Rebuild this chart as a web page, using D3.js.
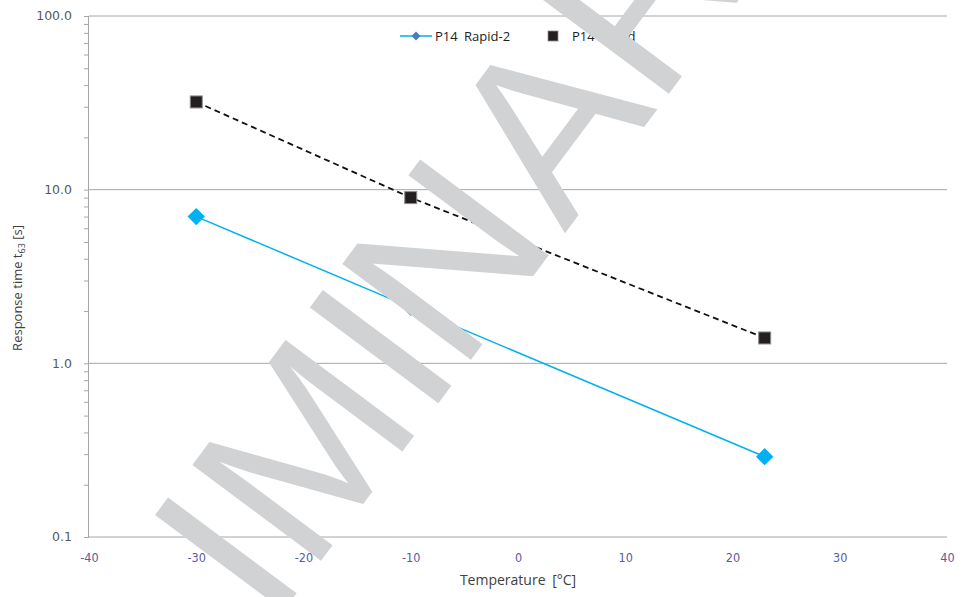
<!DOCTYPE html>
<html>
<head>
<meta charset="utf-8">
<script src="https://cdn.jsdelivr.net/npm/d3@7"></script>
<style>
  html, body { margin: 0; padding: 0; background: #fff; }
  svg { display: block; }
</style>
</head>
<body>
<div id="chart"></div>
<script>
// data
const temperatures = [-30, -10, 23];
const rapid2Values = [7.0, 2.1, 0.29];
const rapidValues = [32, 9.0, 1.4];
const seriesNames = ["P14 Rapid-2", "P14 Rapid"];
const xTickValues = [-40, -30, -20, -10, 0, 10, 20, 30, 40];
const yTickValues = [0.1, 1, 10, 100];
const yTickLabels = ["0.1", "1.0", "10.0", "100.0"];
const watermarkText = "PRELIMINARY";

const width = 962, height = 597;
const margin = { top: 16, right: 15, bottom: 60, left: 89 };

const svg = d3.select("#chart").append("svg")
  .attr("width", width)
  .attr("height", height);

const x = d3.scaleLinear().domain([-40, 40]).range([margin.left, width - margin.right]);
const y = d3.scaleLog().domain([0.1, 100]).range([height - margin.bottom, margin.top]);

const gridColor = "#a6a6a6";

// gridlines (horizontal, decades)
svg.append("g")
  .selectAll("line")
  .data(yTickValues)
  .join("line")
  .attr("x1", x(-40)).attr("x2", x(40))
  .attr("y1", d => y(d)).attr("y2", d => y(d))
  .attr("stroke", gridColor)
  .attr("stroke-width", 1);

// y axis with minor log ticks
const minorTicks = y.ticks();
const yAxis = d3.axisLeft(y)
  .tickValues(minorTicks)
  .tickSize(5)
  .tickFormat("");
const yAxisG = svg.append("g")
  .attr("transform", `translate(${x(-40)},0)`)
  .call(yAxis);
yAxisG.select(".domain").attr("stroke", gridColor).attr("d", `M-0.5,${y(100)}V${y(0.1)}`);
yAxisG.selectAll(".tick line").attr("stroke", gridColor);

// y tick labels
svg.append("g")
  .selectAll("text")
  .data(yTickValues)
  .join("text")
  .attr("x", x(-40) - 17)
  .attr("y", d => y(d))
  .attr("dy", "0.35em")
  .attr("text-anchor", "end")
  .attr("font-family", "DejaVu Sans, Verdana, sans-serif")
  .attr("font-size", 12.5)
  .attr("fill", "#595959")
  .text((d, i) => yTickLabels[i]);

// x axis (labels only)
const xAxis = d3.axisBottom(x)
  .tickValues(xTickValues)
  .tickSize(0)
  .tickPadding(16)
  .tickFormat(d => String(d));
const xAxisG = svg.append("g")
  .attr("transform", `translate(0,${y(0.1)})`)
  .call(xAxis);
xAxisG.select(".domain").remove();
xAxisG.selectAll("text")
  .attr("font-family", "DejaVu Sans Condensed, DejaVu Sans, sans-serif")
  .attr("font-stretch", "condensed")
  .attr("font-size", 12.5)
  .attr("fill", "#5b5b9c");

// axis titles
svg.append("text")
  .attr("x", (x(-40) + x(40)) / 2)
  .attr("y", 585)
  .attr("text-anchor", "middle")
  .attr("font-family", "Open Sans, sans-serif")
  .attr("font-size", 14)
  .attr("word-spacing", 3)
  .attr("fill", "#404040")
  .text("Temperature [°C]");

const yTitle = svg.append("text")
  .attr("transform", `translate(22,288) rotate(-90)`)
  .attr("text-anchor", "middle")
  .attr("font-family", "Open Sans, sans-serif")
  .attr("font-size", 13)
  .attr("fill", "#404040");
yTitle.append("tspan").text("Response time t");
yTitle.append("tspan").attr("font-size", 9).attr("dy", 3).text("63");
yTitle.append("tspan").attr("dy", -3).text(" [s]");

// series
const rapid2Color = "#00b0f0";
const rapid2Data = temperatures.map((t, i) => ({ t, v: rapid2Values[i] }));
const rapidData = temperatures.map((t, i) => ({ t, v: rapidValues[i] }));

const line = d3.line().x(d => x(d.t)).y(d => y(d.v));

svg.append("path")
  .datum(rapidData)
  .attr("d", line)
  .attr("fill", "none")
  .attr("stroke", "#111")
  .attr("stroke-width", 1.8)
  .attr("stroke-dasharray", "6,4");

svg.append("path")
  .datum(rapid2Data)
  .attr("d", line)
  .attr("fill", "none")
  .attr("stroke", rapid2Color)
  .attr("stroke-width", 1.5);

svg.append("g")
  .selectAll("path")
  .data(rapid2Data)
  .join("path")
  .attr("transform", d => `translate(${x(d.t)},${y(d.v)}) rotate(45)`)
  .attr("d", d3.symbol().type(d3.symbolSquare).size(150))
  .attr("fill", rapid2Color);

svg.append("g")
  .selectAll("rect")
  .data(rapidData)
  .join("rect")
  .attr("x", d => x(d.t) - 6)
  .attr("y", d => y(d.v) - 6)
  .attr("width", 12)
  .attr("height", 12)
  .attr("fill", "#231f20")
  .attr("stroke", "#8c8c8c")
  .attr("stroke-width", 1);

// legend
const legend = svg.append("g").attr("transform", "translate(400,36)");
legend.append("line")
  .attr("x1", 0).attr("x2", 32).attr("y1", 0).attr("y2", 0)
  .attr("stroke", rapid2Color).attr("stroke-width", 1.5);
legend.append("path")
  .attr("transform", "translate(16,0) rotate(45)")
  .attr("d", d3.symbol().type(d3.symbolSquare).size(40))
  .attr("fill", "#4a7ebb");
legend.append("text")
  .attr("x", 35).attr("y", 0).attr("dy", "0.35em")
  .attr("font-family", "Open Sans, sans-serif")
  .attr("font-size", 13)
  .attr("word-spacing", 3)
  .attr("fill", "#222")
  .text(seriesNames[0]);
legend.append("rect")
  .attr("x", 148).attr("y", -5).attr("width", 10).attr("height", 10)
  .attr("fill", "#231f20").attr("stroke", "#8c8c8c").attr("stroke-width", 0.8);
legend.append("text")
  .attr("x", 172).attr("y", 0).attr("dy", "0.35em")
  .attr("font-family", "Open Sans, sans-serif")
  .attr("font-size", 13)
  .attr("word-spacing", 3)
  .attr("fill", "#222")
  .text(seriesNames[1]);

// watermark on top (N nudged back a little, as in the reference)
svg.append("text")
  .attr("transform", "translate(-93,1116) rotate(-53.3)")
  .attr("font-family", "Liberation Sans, Arial, sans-serif")
  .attr("font-size", 233)
  .attr("fill", "#d1d2d4")
  .attr("dx", "0 0 0 0 0 0 0 -8 8")
  .text(watermarkText);
</script>
</body>
</html>
